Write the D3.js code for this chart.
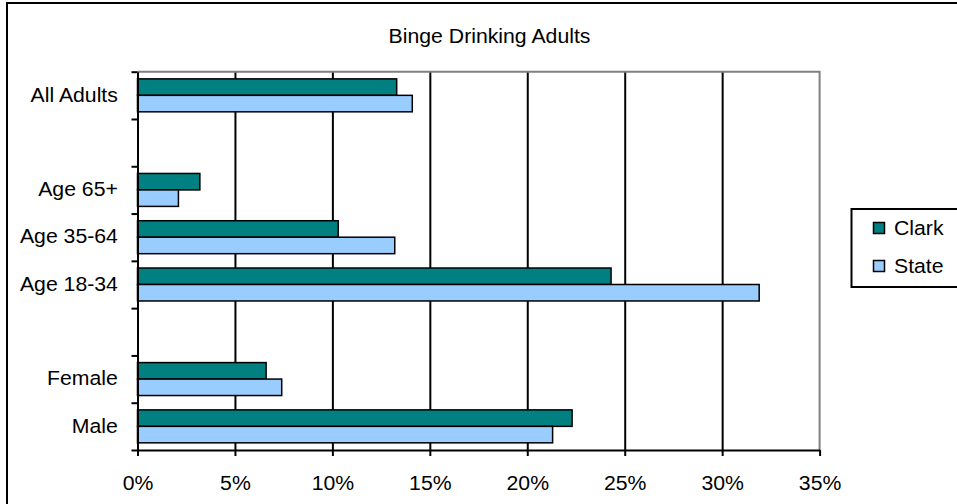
<!DOCTYPE html>
<html>
<head>
<meta charset="utf-8">
<script src="https://cdn.jsdelivr.net/npm/d3@7/dist/d3.min.js"></script>
<style>
  html, body { margin: 0; padding: 0; background: #fff; }
  svg { display: block; }
  text { font-family: "Liberation Sans", Arial, sans-serif; fill: #000; }
</style>
</head>
<body>
<svg id="chart" width="957" height="504"></svg>
<script>
// Rows from top to bottom; empty strings are spacer rows between groups
const categories = ["All Adults", "", "Age 65+", "Age 35-64", "Age 18-34", "", "Female", "Male"];
const seriesNames = ["Clark", "State"];
const clarkValues = [13.3, null, 3.2, 10.3, 24.3, null, 6.6, 22.3];
const stateValues = [14.1, null, 2.1, 13.2, 31.9, null, 7.4, 21.3];
const xTicks = [0, 5, 10, 15, 20, 25, 30, 35];
const titleText = "Binge Drinking Adults";

const colors = { Clark: "#008080", State: "#99CCFF" };
const fontSize = 19.5;
const stretch = 1.09;

const svg = d3.select("#chart");

// Chart frame
svg.append("rect")
  .attr("x", 7).attr("y", 3)
  .attr("width", 1000).attr("height", 600)
  .attr("fill", "#fff").attr("stroke", "#000").attr("stroke-width", 2);

const plot = { left: 137.5, right: 819.6, top: 71.7, bottom: 450 };

const x = d3.scaleLinear().domain([0, 35]).range([plot.left, plot.right]);
const rowIdx = d3.range(categories.length);
const y = d3.scaleBand().domain(rowIdx).range([plot.top, plot.bottom]).padding(0);
const yEdges = d3.scaleLinear().domain([0, categories.length]).range([plot.top, plot.bottom]);
const inner = d3.scaleBand().domain(seriesNames).range([0, y.bandwidth()])
  .paddingInner(0).paddingOuter(0.435);

function stretchText(sel) {
  sel.each(function () {
    const t = d3.select(this);
    const prev = t.attr("transform") || "";
    t.attr("transform", prev + ` scale(${stretch},1)`);
  });
}

// Title
svg.append("g")
  .attr("transform", `translate(489.5,42.5) scale(${stretch},1)`)
  .append("text")
  .attr("text-anchor", "middle")
  .style("font-size", fontSize + "px")
  .text(titleText);

// Vertical gridlines
const grid = svg.append("g")
  .attr("transform", `translate(0,${plot.bottom})`)
  .call(d3.axisBottom(x).tickValues(xTicks.slice(1, -1))
    .tickSize(-(plot.bottom - plot.top)).tickFormat(""));
grid.select(".domain").remove();
grid.selectAll("line").attr("stroke", "#000").attr("stroke-width", 2);

// Plot area outline on top and right
svg.append("path")
  .attr("d", `M${plot.left},${plot.top}H${plot.right}V${plot.bottom}`)
  .attr("fill", "none").attr("stroke", "#808080").attr("stroke-width", 2);

// Bars
const seriesData = [
  { name: "Clark", values: clarkValues },
  { name: "State", values: stateValues }
];
const barsG = svg.append("g");
seriesData.forEach(s => {
  barsG.selectAll(null)
    .data(rowIdx.filter(i => s.values[i] != null))
    .join("rect")
    .attr("x", x(0))
    .attr("y", i => y(i) + inner(s.name))
    .attr("width", i => x(s.values[i]) - x(0))
    .attr("height", inner.bandwidth())
    .attr("fill", colors[s.name])
    .attr("stroke", "#000")
    .attr("stroke-width", 1.5);
});

// X axis
const xAxis = svg.append("g")
  .attr("transform", `translate(0,${plot.bottom})`)
  .call(d3.axisBottom(x).tickValues(xTicks).tickFormat(d => d + "%")
    .tickSize(6).tickPadding(20).tickSizeOuter(0));
xAxis.select(".domain").attr("stroke", "#000").attr("stroke-width", 2);
xAxis.selectAll("line").attr("stroke", "#000").attr("stroke-width", 2);
xAxis.selectAll("text").style("font-size", fontSize + "px").attr("font-family", null)
  .attr("dy", null).attr("y", 40).call(stretchText);

// Y axis: ticks on row boundaries
const yAxis = svg.append("g")
  .attr("transform", `translate(${plot.left},0)`)
  .call(d3.axisLeft(yEdges).ticks(categories.length).tickSize(6)
    .tickFormat("").tickSizeOuter(0));
yAxis.select(".domain").attr("stroke", "#000").attr("stroke-width", 2);
yAxis.selectAll("line").attr("stroke", "#000").attr("stroke-width", 2);

// Y axis: category labels centred in rows
const yLabels = svg.append("g")
  .attr("transform", `translate(${plot.left},0)`)
  .call(d3.axisLeft(y).tickSize(0).tickPadding(18).tickFormat(i => categories[i]));
yLabels.select(".domain").remove();
yLabels.selectAll("text").style("font-size", fontSize + "px").attr("font-family", null)
  .call(stretchText);

// Legend
const legend = svg.append("g");
legend.append("rect")
  .attr("x", 851.5).attr("y", 209).attr("width", 120).attr("height", 78)
  .attr("fill", "#fff").attr("stroke", "#000").attr("stroke-width", 2);
const legendY = d3.scalePoint().domain(seriesNames).range([234.5, 272.5]);
seriesNames.forEach(name => {
  legend.append("rect")
    .attr("x", 873.5).attr("y", legendY(name) - 12)
    .attr("width", 11).attr("height", 11)
    .attr("fill", colors[name]).attr("stroke", "#000").attr("stroke-width", 1.5);
  legend.append("g")
    .attr("transform", `translate(894,${legendY(name)}) scale(${stretch},1)`)
    .append("text")
    .style("font-size", fontSize + "px")
    .text(name);
});
</script>
</body>
</html>
